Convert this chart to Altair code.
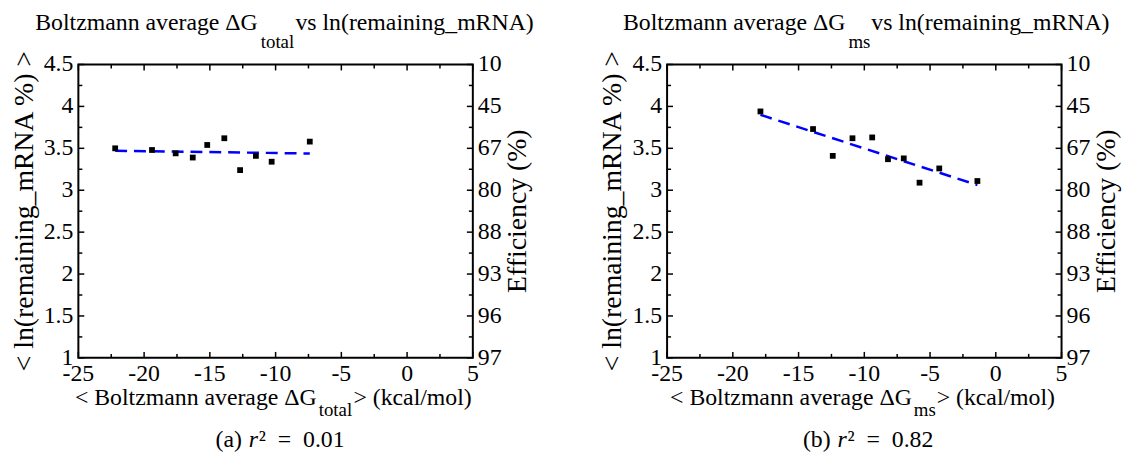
import altair as alt
import pandas as pd

# ---- data ----
X_A = [-22.2, -19.4, -17.6, -16.3, -15.2, -13.9, -12.7, -11.5, -10.3, -7.4]
Y_A = [3.50, 3.48, 3.44, 3.39, 3.54, 3.62, 3.24, 3.41, 3.34, 3.58]
X_B = [-17.9, -13.9, -12.4, -10.9, -9.4, -8.2, -7.0, -5.8, -4.3, -1.4]
Y_B = [3.94, 3.73, 3.41, 3.62, 3.63, 3.37, 3.38, 3.09, 3.26, 3.11]

X_MAJOR = [-25, -20, -15, -10, -5, 0, 5]
X_MINOR = [-22.5, -17.5, -12.5, -7.5, -2.5, 2.5]
Y_MAJOR = [1, 1.5, 2, 2.5, 3, 3.5, 4, 4.5]
Y_MINOR = [1.25, 1.75, 2.25, 2.75, 3.25, 3.75, 4.25]
X_LABELS = ["-25", "-20", "-15", "-10", "-5", "0", "5"]
Y_LABELS = ["1", "1.5", "2", "2.5", "3", "3.5", "4", "4.5"]
EFF_LABELS = ["97", "96", "93", "88", "80", "67", "45", "10"]  # for Y_MAJOR
X_DOMAIN = [-25, 5]
Y_DOMAIN = [1, 4.5]

TITLE_MAIN = "Boltzmann average \u0394G"
SUBS = ["total", "ms"]
TITLE_TAIL = "\u00a0vs ln(remaining_mRNA)"
XT_MAIN = "< Boltzmann average \u0394G"
XT_TAIL = "\u00a0> (kcal/mol)"
Y_TITLE = "< ln(remaining_mRNA %) >"
Y2_TITLE = "Efficiency (%)"
CAP_PREFIX = ["(a)", "(b)"]
CAP_R = "r"
CAP_REST = ["\u00b2\u00a0\u00a0=\u00a0\u00a00.01", "\u00b2\u00a0\u00a0=\u00a0\u00a00.82"]

W, H = 398, 296
FONT = "Liberation Serif, Times New Roman, serif"
XS = alt.Scale(domain=X_DOMAIN, nice=False, zero=False)
YS = alt.Scale(domain=Y_DOMAIN, nice=False, zero=False)
LO_X, HI_X = X_DOMAIN
LO_Y, HI_Y = Y_DOMAIN


def xd(v):
    return alt.XDatum(v, scale=XS, axis=None)


def yd(v):
    return alt.YDatum(v, scale=YS, axis=None)


def xf(name):
    return alt.X(name, type="quantitative", scale=XS, axis=None)


def yf(name):
    return alt.Y(name, type="quantitative", scale=YS, axis=None)


def xticks(vals, edge, off):
    return alt.Chart(pd.DataFrame({"v": vals})).mark_rule(
        color="black", strokeWidth=1.5, y2Offset=off).encode(
        x=xf("v"), y=yd(edge), y2=alt.Y2Datum(edge))


def yticks(vals, edge, off):
    return alt.Chart(pd.DataFrame({"v": vals})).mark_rule(
        color="black", strokeWidth=1.5, x2Offset=off).encode(
        y=yf("v"), x=xd(edge), x2=alt.X2Datum(edge))


def txt(s, px, py, size, align="left", style="normal", angle=0, baseline="alphabetic"):
    # (px, py) are pixel offsets from the top-left corner of the plot frame;
    # for angle=270, dx runs upward and dy runs rightward.
    return alt.Chart(pd.DataFrame({"t": [s]})).mark_text(
        align=align, baseline=baseline, fontSize=size, font=FONT, color="black",
        fontStyle=style, dx=px, dy=py, angle=angle).encode(
        x=xd(LO_X), y=yd(HI_Y), text="t:N")


def panel(xs, ys, i, ttl_start, xt_start, ytitle_off):
    pts = pd.DataFrame({"x": xs, "y": ys})
    base = alt.Chart(pts)
    fit = base.transform_regression("x", "y").mark_line(
        color="#0000ff", strokeWidth=2.5, strokeDash=[12, 7]).encode(x=xf("x"), y=yf("y"))
    points = base.mark_square(size=34, color="black", opacity=1).encode(x=xf("x"), y=yf("y"))

    xlab = alt.Chart(pd.DataFrame({"v": X_MAJOR, "lab": X_LABELS})).mark_text(
        align="center", baseline="alphabetic", fontSize=24, font=FONT, color="black", dy=23
    ).encode(x=xf("v"), y=yd(LO_Y), text="lab:N")
    ylab = alt.Chart(pd.DataFrame({"v": Y_MAJOR, "lab": Y_LABELS})).mark_text(
        align="right", baseline="middle", fontSize=24, font=FONT, color="black", dx=-5
    ).encode(x=xd(LO_X), y=yf("v"), text="lab:N")
    eff = alt.Chart(pd.DataFrame({"v": Y_MAJOR, "lab": EFF_LABELS})).mark_text(
        align="left", baseline="middle", fontSize=24, font=FONT, color="black", dx=5
    ).encode(x=xd(HI_X), y=yf("v"), text="lab:N")

    sub = SUBS[i]
    sub_w = 34 if sub == "total" else 22
    p_t = ttl_start + 224
    p_x = xt_start + 243.5
    q = 172
    layers = [
        xticks(X_MAJOR, LO_Y, -6), xticks(X_MINOR, LO_Y, -4),
        xticks(X_MAJOR, HI_Y, 6), xticks(X_MINOR, HI_Y, 4),
        yticks(Y_MAJOR, LO_X, 6), yticks(Y_MINOR, LO_X, 4),
        yticks(Y_MAJOR, HI_X, -6), yticks(Y_MINOR, HI_X, -4),
        fit, points, xlab, ylab, eff,
        txt(Y_TITLE, -H / 2, ytitle_off, 28, "center", angle=270, baseline="middle"),
        txt(Y2_TITLE, -H / 2, W + 46, 28, "center", angle=270, baseline="middle"),
        txt(TITLE_MAIN, p_t, -35, 24, "right"),
        txt(sub, p_t + 3, -17, 19),
        txt(TITLE_TAIL, p_t + 4 + sub_w, -35, 24),
        txt(XT_MAIN, p_x, H + 48, 24, "right"),
        txt(sub, p_x + 2, H + 59, 19),
        txt(XT_TAIL, p_x + 3 + sub_w, H + 48, 24),
        txt(CAP_PREFIX[i], q - 7, H + 90, 24, "right"),
        txt(CAP_R, q, H + 90, 24, "left", "italic"),
        txt(CAP_REST[i], q + 10, H + 90, 24),
    ]
    return alt.layer(*layers).properties(width=W, height=H)


left = panel(X_A, Y_A, 0, -43, -3, -54)
right = panel(X_B, Y_B, 1, -44, 3.5, -54)

chart = alt.hconcat(left, right, spacing=64).properties(
    padding={"left": 2, "top": 0, "right": 0, "bottom": 0}
).configure_view(stroke="black", strokeWidth=2).configure_text(font=FONT)

chart.save("out.html", embed_options={"renderer": "svg", "actions": False})
